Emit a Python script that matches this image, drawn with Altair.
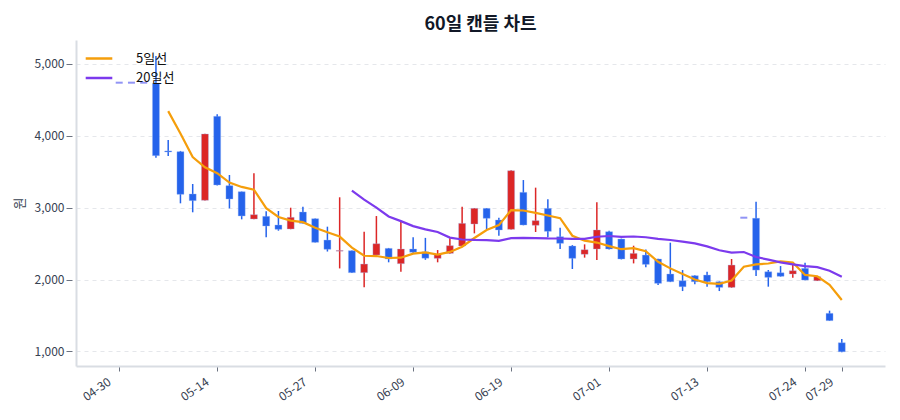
import altair as alt
import pandas as pd

# 60 trading days
opens = [4740, 4740, 4740, 4731, 3790, 3780, 3191, 3103, 4272, 3307,
         3223, 2843, 2880, 2759, 2704, 2940, 2847, 2550, 2395, 2402,
         2096, 2342, 2434, 2221, 2425, 2385, 2295, 2365, 2467, 2773,
         2991, 2829, 2699, 3214, 2755, 2991, 2597, 2467, 2351, 2425,
         2666, 2564, 2286, 2341, 2286, 2077, 1984, 2054, 2063, 1970,
         1891, 2861, 2854, 2109, 2095, 2077, 2156, 1984, 1530, 1121]
highs = [4740, 4740, 4740, 5111, 3942, 3790, 3330, 4030, 4300, 3455,
         3225, 3478, 2950, 2954, 3000, 3014, 2850, 2736, 3145, 2405,
         2666, 2884, 2440, 2815, 2588, 2580, 2411, 2574, 3014, 2995,
         2995, 2861, 3520, 3385, 3279, 3116, 2722, 2480, 2490, 3075,
         2680, 2570, 2471, 2420, 2290, 2513, 2132, 2060, 2109, 1975,
         2286, 2861, 3084, 2133, 2188, 2202, 2235, 2045, 1567, 1172]
lows = [4740, 4740, 4740, 3696, 3720, 3061, 2936, 3100, 3310, 2990,
        2838, 2840, 2590, 2680, 2700, 2780, 2515, 2390, 2155, 2090,
        1892, 2340, 2240, 2110, 2356, 2275, 2240, 2360, 2460, 2643,
        2704, 2611, 2695, 2755, 2662, 2588, 2425, 2147, 2305, 2272,
        2420, 2280, 2225, 2170, 1924, 1965, 1840, 1933, 1900, 1840,
        1885, 2861, 2049, 1901, 2040, 2026, 1990, 1980, 1425, 990]
closes = [4740, 4740, 4740, 3724, 3775, 3186, 3098, 4026, 3316, 3121,
          2885, 2903, 2745, 2699, 2866, 2782, 2518, 2421, 2405, 2096,
          2216, 2499, 2286, 2425, 2380, 2297, 2351, 2472, 2782, 2991,
          2852, 2690, 3515, 2759, 2820, 2671, 2504, 2295, 2416, 2690,
          2425, 2286, 2364, 2211, 1947, 1970, 1900, 1970, 1970, 1891,
          2202, 2861, 2132, 2030, 2045, 2123, 1993, 2040, 1428, 995]

tick_idx = [0, 8, 16, 24, 32, 40, 48, 56, 59]
tick_labels = ["04-30", "05-14", "05-27", "06-09", "06-19",
               "07-01", "07-13", "07-24", "07-29"]
y_ticks = [1000, 2000, 3000, 4000, 5000]

UP = "#dc2626"
DOWN = "#2563eb"
FLAT = "#6366f1"
MA5_COLOR = "#f59e0b"
MA20_COLOR = "#7c3aed"
FONT = "Noto Sans CJK KR"

df = pd.DataFrame({
    "i": list(range(len(closes))),
    "open": opens,
    "high": highs,
    "low": lows,
    "close": closes,
})

label_expr = "".join(
    f"datum.value == {i} ? '{t}' : " for i, t in zip(tick_idx, tick_labels)
) + "''"

x = alt.X(
    "i:Q",
    scale=alt.Scale(domain=[-3.12, 62.12], nice=False, zero=False),
    axis=alt.Axis(
        values=tick_idx,
        labelExpr=label_expr,
        title=None,
        grid=False,
        labelAngle=-35,
        labelAlign="right",
        labelBaseline="top",
        labelFontSize=12,
        labelColor="#374151",
        labelPadding=5,
        labelOffset=-13,
        domainColor="#d9dde3",
        domainWidth=2,
        tickColor="#6b7280",
        tickSize=5,
    ),
)

y_axis = alt.Axis(
    values=y_ticks,
    format=",.0f",
    title="원",
    titleFontSize=13,
    titleFontWeight="normal",
    titleColor="#374151",
    titlePadding=8,
    labelFontSize=12,
    labelColor="#374151",
    labelPadding=2,
    grid=True,
    gridDash=[4, 4],
    gridColor="#e5e7eb",
    domainColor="#d9dde3",
    domainWidth=2,
    tickColor="#6b7280",
    tickSize=10,
    tickDash=[0, 4, 6],
)
y_scale = alt.Scale(domain=[797, 5334], nice=False, zero=False)

base = alt.Chart(df).transform_calculate(
    dir="datum.close > datum.open ? 'up' : (datum.close < datum.open ? 'down' : 'flat')"
)
candle_color = alt.Color(
    "dir:N",
    scale=alt.Scale(domain=["up", "down", "flat"], range=[UP, DOWN, FLAT]),
    legend=None,
)

wicks = base.mark_rule(strokeWidth=1.5).encode(
    x=x,
    y=alt.Y("low:Q", scale=y_scale, axis=y_axis),
    y2="high:Q",
    color=candle_color,
)

bodies = base.transform_filter("datum.open != datum.close").mark_bar(
    size=7, strokeWidth=1, strokeOpacity=0.35
).encode(
    x=x,
    y=alt.Y("open:Q", scale=y_scale, axis=y_axis),
    y2="close:Q",
    color=candle_color,
    stroke=alt.value("#9db8f5"),
)

flats = base.transform_filter("datum.open == datum.close").mark_tick(
    orient="horizontal", thickness=2, size=7, color=FLAT
).encode(
    x=x,
    y=alt.Y("close:Q", scale=y_scale, axis=y_axis),
)

ma = alt.Chart(df).transform_window(
    ma5="mean(close)", n5="count()", frame=[-4, 0], sort=[alt.SortField("i")]
).transform_window(
    ma20="mean(close)", n20="count()", frame=[-19, 0], sort=[alt.SortField("i")]
)

line_color = alt.Color(
    "series:N",
    scale=alt.Scale(domain=["5일선", "20일선"], range=[MA5_COLOR, MA20_COLOR]),
    legend=alt.Legend(
        title=None,
        orient="none",
        legendX=12,
        legendY=7.5,
        padding=0,
        labelFont=FONT,
        labelFontSize=13,
        labelColor="#111111",
        symbolType="M-1.4,0H1.4",
        symbolSize=361,
        symbolStrokeWidth=2.5,
        labelOffset=26,
        rowPadding=1.5,
    ),
)

ma5_line = ma.transform_filter("datum.n5 >= 5").transform_calculate(
    series="'5일선'"
).mark_line(strokeWidth=2.2).encode(
    x=x, y=alt.Y("ma5:Q", scale=y_scale, axis=y_axis), color=line_color
)

ma20_line = ma.transform_filter("datum.n20 >= 20").transform_calculate(
    series="'20일선'"
).mark_line(strokeWidth=2.2).encode(
    x=x, y=alt.Y("ma20:Q", scale=y_scale, axis=y_axis), color=line_color
)

candles = alt.layer(wicks, bodies, flats)
lines = alt.layer(ma5_line, ma20_line)

chart = alt.layer(candles, lines).resolve_scale(
    color="independent"
).properties(
    width=809,
    height=326,
    background="white",
    autosize=alt.AutoSizeParams(type="none"),
    padding={"left": 68, "top": 32, "right": 7, "bottom": 46},
    title=alt.Title(
        "60일 캔들 차트",
        fontSize=18,
        fontWeight="bold",
        color="#111827",
        font=FONT,
        anchor="middle",
        offset=6,
    ),
).configure_view(
    strokeWidth=0,
    stroke="transparent",
).configure_axis(
    labelFont=FONT,
    titleFont=FONT,
)

chart.save("out.html", embed_options={"renderer": "svg", "actions": False})
